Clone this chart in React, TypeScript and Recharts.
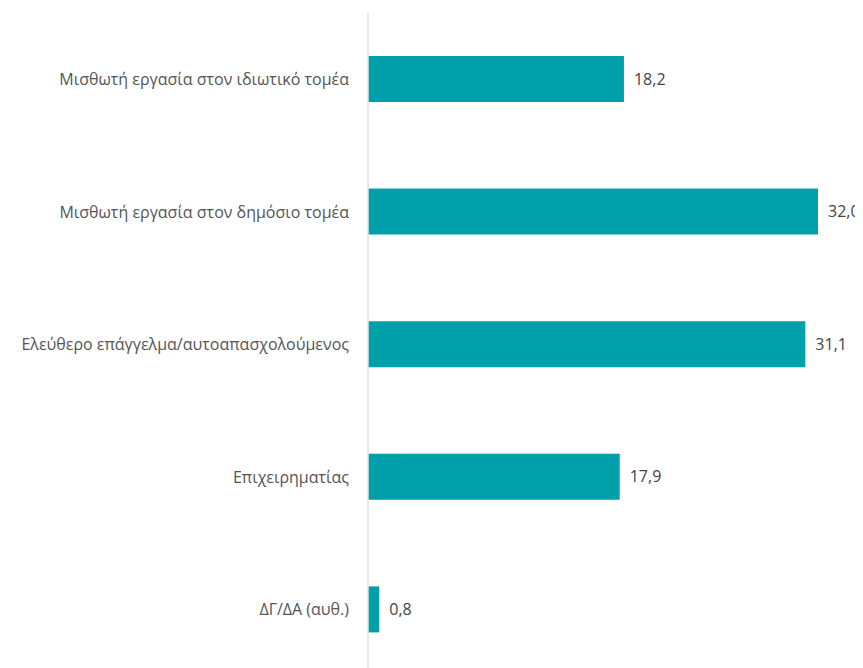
import { BarChart, Bar, XAxis, YAxis, LabelList } from 'recharts';

// categories + values (%)
const categories = [
  'Μισθωτή εργασία στον ιδιωτικό τομέα',
  'Μισθωτή εργασία στον δημόσιο τομέα',
  'Ελεύθερο επάγγελμα/αυτοαπασχολούμενος',
  'Επιχειρηματίας',
  'ΔΓ/ΔΑ (αυθ.)',
];
const values = [18.2, 32.0, 31.1, 17.9, 0.8];

const data = categories.map((name, i) => ({ name, value: values[i] }));

const fmt = (v: any) => Number(v).toFixed(1).replace('.', ',');

const App: React.FC = () => {
  return (
    <>
      {/* no scrollbars, the last row runs off the bottom edge */}
      <style>{'html, body { overflow: hidden; } .recharts-wrapper, .recharts-surface { overflow: visible !important; }'}</style>
      <BarChart
        width={855}
        height={668}
        data={data}
        layout='vertical'
        margin={{ top: 5, right: 45, bottom: 0, left: 0 }}
        style={{ fontFamily: '"Open Sans", sans-serif' }}
      >
        <XAxis type='number' domain={[0, 32]} hide />
        <YAxis
          type='category'
          dataKey='name'
          width={360}
          tickLine={false}
          tickSize={0}
          tickMargin={19}
          axisLine={{ stroke: '#e2e2e2', strokeWidth: 1.5 }}
          tick={{ fill: '#555', fontSize: 16 }}
        />
        <Bar dataKey='value' fill='#00A0AB' barSize={46} isAnimationActive={false}>
          <LabelList dataKey='value' position='right' offset={10} formatter={fmt} fill='#444' fontSize={16} />
        </Bar>
      </BarChart>
    </>
  );
};

export default App;
